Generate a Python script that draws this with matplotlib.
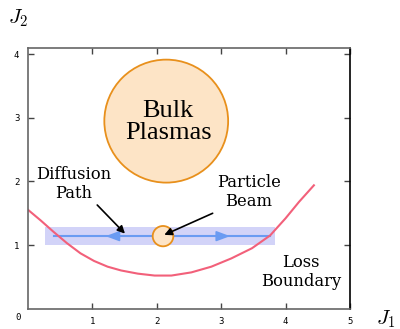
import numpy as np
import matplotlib.pyplot as plt
from matplotlib.patches import Ellipse

plt.rcParams['mathtext.fontset'] = 'cm'

# loss boundary
bound_x = [0.0, 0.20, 0.40, 0.61, 0.82, 1.03, 1.24, 1.45, 1.71, 1.97, 2.23, 2.54,
           2.85, 3.16, 3.48, 3.76, 4.00, 4.21, 4.44]
bound_y = [1.56, 1.39, 1.21, 1.03, 0.87, 0.75, 0.66, 0.60, 0.55, 0.52, 0.52, 0.57,
           0.66, 0.79, 0.95, 1.15, 1.42, 1.68, 1.94]

# diffusion band and path
band_x = [0.27, 3.83]
band_lo = 1.0
band_hi = 1.29
path_x = [0.41, 3.76]
path_y = 1.14

# circles: (x, y, radius)
bulk = (2.15, 2.95, 0.96)
beam = (2.10, 1.14, 0.16)

xticks = [1, 2, 3, 4, 5]
yticks = [1, 2, 3, 4]

fig = plt.figure(figsize=(4.0, 3.29), dpi=100)
ax = fig.add_axes([0.069, 0.062, 0.806, 0.792])
ax.set_xlim(0, 5)
ax.set_ylim(0, 4.1)

peach = '#fde4c6'
orange = '#e8901c'
blue = '#6a9bf2'

ax.fill_between(band_x, band_lo, band_hi, color='#d2d3f8', lw=0, zorder=1)
ax.plot(path_x, [path_y, path_y], color=blue, lw=1.5, zorder=2)
head = dict(arrowstyle='-|>,head_length=0.75,head_width=0.28', color=blue, lw=1.2,
            mutation_scale=11, shrinkA=0, shrinkB=0)
ax.annotate('', xy=(1.21, path_y), xytext=(1.45, path_y), arrowprops=head, zorder=3)
ax.annotate('', xy=(3.14, path_y), xytext=(2.9, path_y), arrowprops=head, zorder=3)

ax.plot(bound_x, bound_y, color='#f2607a', lw=1.5, zorder=2)

ax.add_patch(Ellipse((bulk[0], bulk[1]), 2 * bulk[2], 2 * bulk[2] * 64 / 63.5,
                     facecolor=peach, edgecolor=orange, lw=1.3, zorder=3))
ax.add_patch(Ellipse((beam[0], beam[1]), 2 * beam[2], 2 * beam[2],
                     facecolor=peach, edgecolor=orange, lw=1.3, zorder=4))

ax.text(2.18, 2.93, 'Bulk\nPlasmas', family='Liberation Serif', fontsize=19,
        ha='center', va='center', linespacing=1.0, zorder=5)

lab = dict(family='DejaVu Serif', fontsize=11.8, ha='center', va='center', linespacing=1.15)
ax.text(0.71, 1.96, 'Diffusion\nPath', **lab)
ax.text(3.43, 1.83, 'Particle\nBeam', **lab)
ax.text(4.24, 0.57, 'Loss\nBoundary', **lab)

arr = dict(arrowstyle='-|>', color='black', lw=1.2, mutation_scale=11, shrinkA=0, shrinkB=0)
ax.annotate('', xy=(1.51, 1.18), xytext=(1.08, 1.63), arrowprops=arr, zorder=6)
ax.annotate('', xy=(2.12, 1.16), xytext=(2.87, 1.50), arrowprops=arr, zorder=6)

# frame and ticks
for s in ['left', 'top', 'bottom']:
    ax.spines[s].set_color('#666666')
    ax.spines[s].set_linewidth(1.2)
ax.spines['right'].set_color('black')
ax.spines['right'].set_linewidth(1.2)

ax.set_xticks(xticks)
ax.set_xticklabels([str(t) for t in xticks])
ax.set_yticks(yticks)
ax.set_yticklabels([str(t) for t in yticks])
ax.tick_params(direction='in', length=4, width=1, color='#444444',
               top=True, right=True, labelsize=6.5, pad=6)
for t in ax.get_xticklabels() + ax.get_yticklabels():
    t.set_family('DejaVu Sans Mono')
ax.text(-0.15, -0.07, '0', family='DejaVu Sans Mono',
        fontsize=6.5, ha='center', va='top', clip_on=False)

fig.text(0.045, 0.945, r'$J_2$', fontsize=15, ha='center', va='center')
fig.text(0.965, 0.03, r'$J_1$', fontsize=15, ha='center', va='center')

fig.savefig('out.png', dpi=100)
